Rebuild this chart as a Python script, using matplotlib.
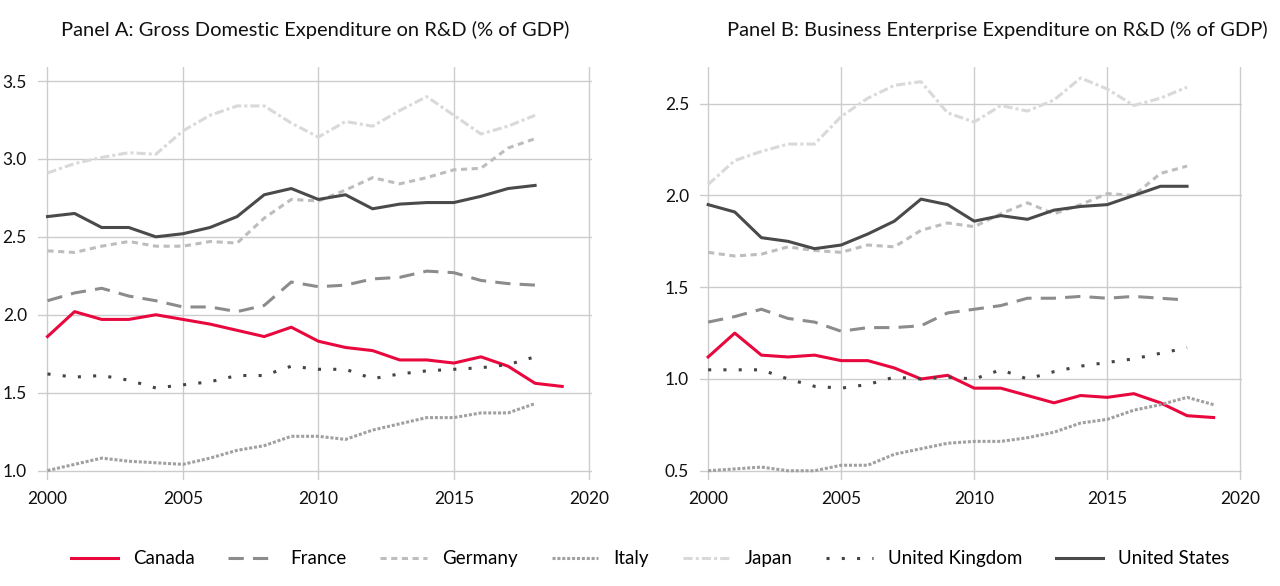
import numpy as np
import matplotlib.pyplot as plt

plt.rcParams['font.family'] = ['Lato', 'DejaVu Sans']

years = np.arange(2000, 2020)

# Panel A: GERD (% of GDP)
canada_a = [1.86, 2.02, 1.97, 1.97, 2.00, 1.97, 1.94, 1.90, 1.86, 1.92, 1.83, 1.79, 1.77, 1.71, 1.71, 1.69, 1.73, 1.67, 1.56, 1.54]
france_a = [2.09, 2.14, 2.17, 2.12, 2.09, 2.05, 2.05, 2.02, 2.06, 2.21, 2.18, 2.19, 2.23, 2.24, 2.28, 2.27, 2.22, 2.20, 2.19]
germany_a = [2.41, 2.40, 2.44, 2.47, 2.44, 2.44, 2.47, 2.46, 2.62, 2.74, 2.73, 2.80, 2.88, 2.84, 2.88, 2.93, 2.94, 3.07, 3.13]
italy_a = [1.00, 1.04, 1.08, 1.06, 1.05, 1.04, 1.08, 1.13, 1.16, 1.22, 1.22, 1.20, 1.26, 1.30, 1.34, 1.34, 1.37, 1.37, 1.43]
japan_a = [2.91, 2.97, 3.01, 3.04, 3.03, 3.18, 3.28, 3.34, 3.34, 3.23, 3.14, 3.24, 3.21, 3.31, 3.40, 3.28, 3.16, 3.21, 3.28]
uk_a = [1.62, 1.60, 1.61, 1.58, 1.53, 1.55, 1.57, 1.61, 1.61, 1.67, 1.65, 1.65, 1.59, 1.62, 1.64, 1.65, 1.66, 1.68, 1.73]
us_a = [2.63, 2.65, 2.56, 2.56, 2.50, 2.52, 2.56, 2.63, 2.77, 2.81, 2.74, 2.77, 2.68, 2.71, 2.72, 2.72, 2.76, 2.81, 2.83]

# Panel B: BERD (% of GDP)
canada_b = [1.12, 1.25, 1.13, 1.12, 1.13, 1.10, 1.10, 1.06, 1.00, 1.02, 0.95, 0.95, 0.91, 0.87, 0.91, 0.90, 0.92, 0.87, 0.80, 0.79]
france_b = [1.31, 1.34, 1.38, 1.33, 1.31, 1.26, 1.28, 1.28, 1.29, 1.36, 1.38, 1.40, 1.44, 1.44, 1.45, 1.44, 1.45, 1.44, 1.43]
germany_b = [1.69, 1.67, 1.68, 1.72, 1.70, 1.69, 1.73, 1.72, 1.81, 1.85, 1.83, 1.90, 1.96, 1.90, 1.95, 2.01, 2.00, 2.12, 2.16]
italy_b = [0.50, 0.51, 0.52, 0.50, 0.50, 0.53, 0.53, 0.59, 0.62, 0.65, 0.66, 0.66, 0.68, 0.71, 0.76, 0.78, 0.83, 0.86, 0.90, 0.86]
japan_b = [2.06, 2.19, 2.24, 2.28, 2.28, 2.43, 2.53, 2.60, 2.62, 2.45, 2.40, 2.49, 2.46, 2.52, 2.64, 2.58, 2.49, 2.53, 2.59]
uk_b = [1.05, 1.05, 1.05, 1.00, 0.96, 0.95, 0.97, 1.01, 1.00, 1.01, 1.00, 1.05, 1.00, 1.04, 1.07, 1.09, 1.11, 1.14, 1.17]
us_b = [1.95, 1.91, 1.77, 1.75, 1.71, 1.73, 1.79, 1.86, 1.98, 1.95, 1.86, 1.89, 1.87, 1.92, 1.94, 1.95, 2.00, 2.05, 2.05]

names = ['Canada', 'France', 'Germany', 'Italy', 'Japan', 'United Kingdom', 'United States']
colors = ['#e8083e', '#8c8c8c', '#bdbdbd', '#a0a0a0', '#d9d9d9', '#444444', '#4a4a4a']
styles = ['-', (0, (5, 3)), (0, (2, 1.5)), (0, (1, 0.6)), (0, (3, 1, 1, 1)), (0, (1, 4)), '-']

data_a = [canada_a, france_a, germany_a, italy_a, japan_a, uk_a, us_a]
data_b = [canada_b, france_b, germany_b, italy_b, japan_b, uk_b, us_b]

fig = plt.figure(figsize=(12.8, 5.86), dpi=100)
ax1 = fig.add_axes([0.0297, 0.181, 0.4328, 0.7047])
ax2 = fig.add_axes([0.547, 0.181, 0.423, 0.7047])

for ax, data in [(ax1, data_a), (ax2, data_b)]:
    for vals, name, c, ls in zip(data, names, colors, styles):
        ax.plot(years[:len(vals)], vals, color=c, linestyle=ls, linewidth=2.2, label=name)
    ax.grid(True, color='#cccccc', linewidth=1)
    ax.set_axisbelow(True)
    for s in ax.spines.values():
        s.set_visible(False)
    ax.tick_params(length=0, labelsize=12.5, pad=8, labelcolor='#111111')
    ax.set_xticks([2000, 2005, 2010, 2015, 2020])

ax1.set_title('Panel A: Gross Domestic Expenditure on R&D (% of GDP)',
              fontsize=14.5, pad=22, color='#111111')
ax2.set_title('Panel B: Business Enterprise Expenditure on R&D (% of GDP)',
              fontsize=14.5, pad=22, color='#111111', x=0.548)

ax1.set_xlim(1999.65, 2020.1)
ax1.set_ylim(0.94, 3.59)
ax1.set_yticks([1.0, 1.5, 2.0, 2.5, 3.0, 3.5])
ax1.yaxis.set_major_formatter(plt.FormatStrFormatter('%.1f'))

ax2.set_xlim(1999.7, 2020.05)
ax2.set_ylim(0.45, 2.7)
ax2.set_yticks([0.5, 1.0, 1.5, 2.0, 2.5])
ax2.yaxis.set_major_formatter(plt.FormatStrFormatter('%.1f'))

handles, labels = ax1.get_legend_handles_labels()
fig.legend(handles, labels, loc='lower center', ncol=7, frameon=False,
           fontsize=13.5, bbox_to_anchor=(0.508, 0.003), handlelength=2.5,
           columnspacing=1.8, handletextpad=0.8)

fig.savefig('out.png', dpi=100)
